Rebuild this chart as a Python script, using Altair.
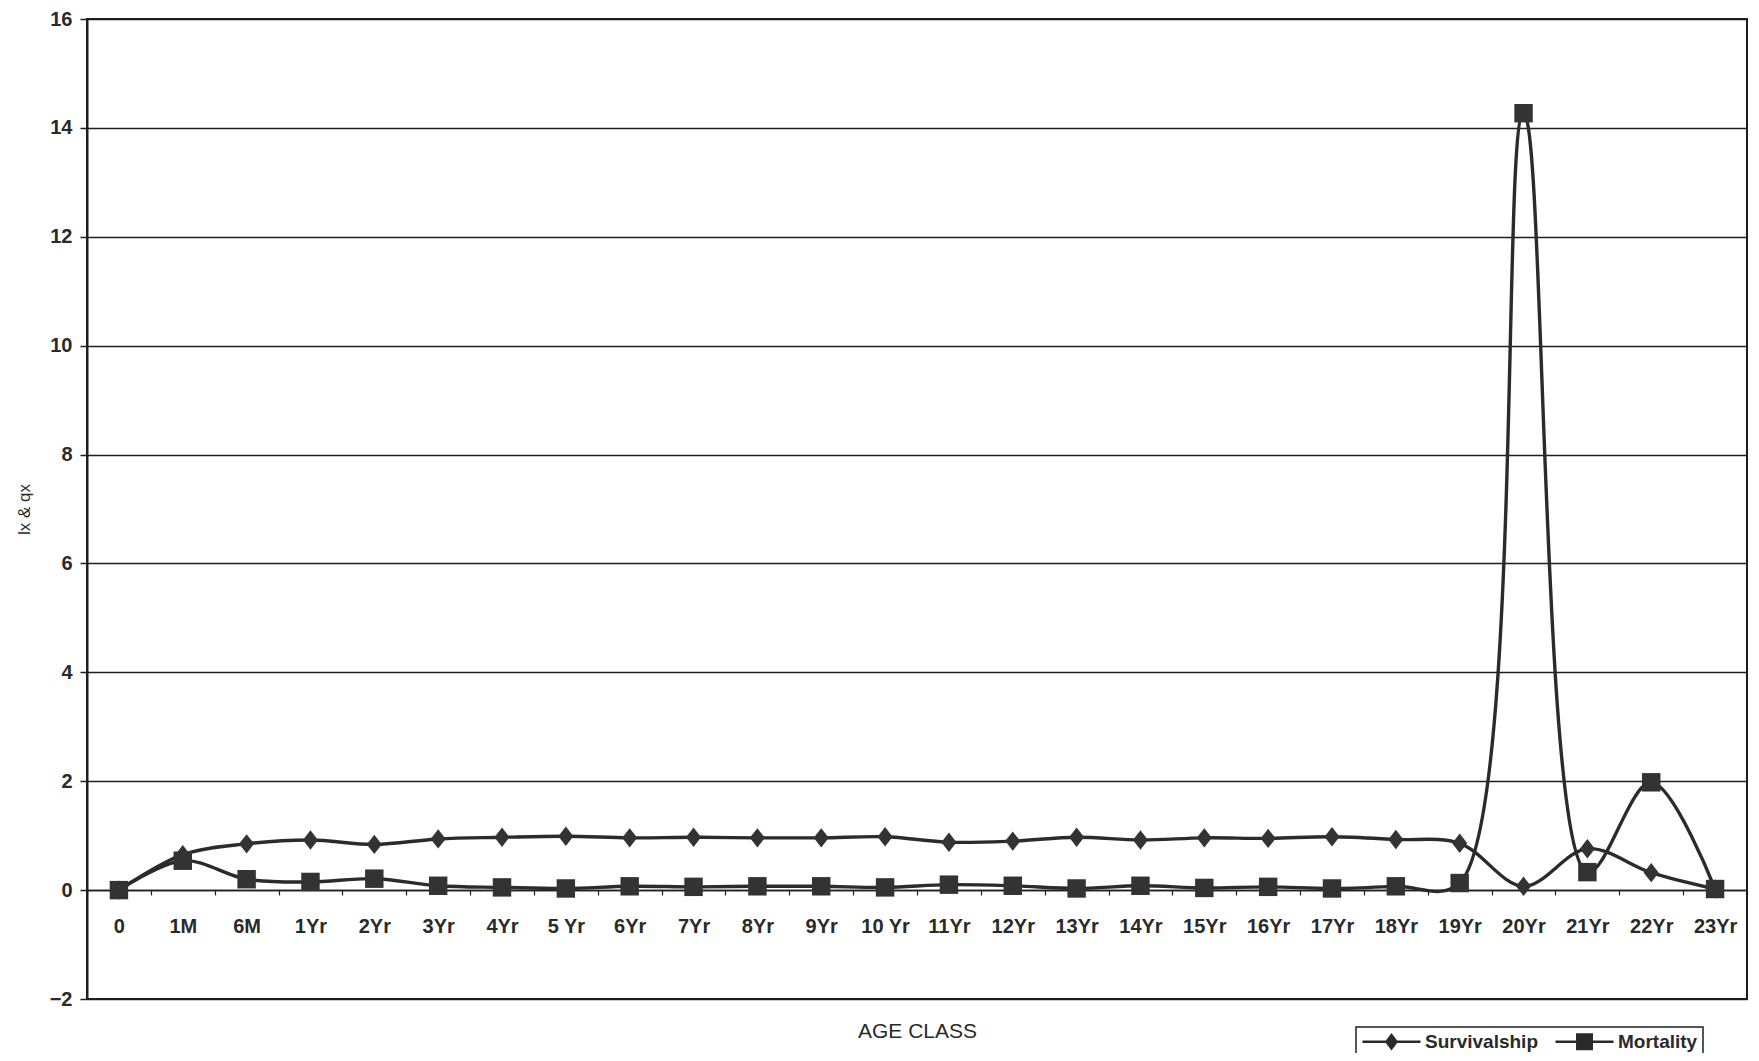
import altair as alt
import pandas as pd

categories = ["0", "1M", "6M", "1Yr", "2Yr", "3Yr", "4Yr", "5 Yr", "6Yr", "7Yr", "8Yr", "9Yr",
              "10 Yr", "11Yr", "12Yr", "13Yr", "14Yr", "15Yr", "16Yr", "17Yr", "18Yr", "19Yr",
              "20Yr", "21Yr", "22Yr", "23Yr"]
survivalship = [0.0, 0.65, 0.85, 0.92, 0.84, 0.94, 0.97, 0.99, 0.96, 0.97, 0.96, 0.96,
                0.98, 0.88, 0.90, 0.97, 0.92, 0.96, 0.95, 0.98, 0.93, 0.86,
                0.07, 0.76, 0.32, 0.02]
mortality = [0.0, 0.54, 0.20, 0.15, 0.21, 0.08, 0.05, 0.03, 0.07, 0.06, 0.07, 0.07,
             0.05, 0.10, 0.08, 0.03, 0.08, 0.04, 0.06, 0.03, 0.07, 0.13,
             14.27, 0.33, 1.98, 0.02]
series_names = ["Survivalship", "Mortality"]
y_ticks = [-2, 0, 2, 4, 6, 8, 10, 12, 14, 16]

rows = []
for i, c in enumerate(categories):
    rows.append({"age": c, "value": survivalship[i], "series": series_names[0]})
    rows.append({"age": c, "value": mortality[i], "series": series_names[1]})
df = pd.DataFrame(rows)

FONT = "Liberation Sans"
INK = "#1e1e1e"
LINE = "#2b2b2b"

x_enc = alt.X("age:N",
              scale=alt.Scale(type="band", domain=categories, paddingInner=0, paddingOuter=0),
              sort=categories,
              axis=alt.Axis(orient="bottom", offset=-109, labelAngle=0, tickBand="extent",
                            tickSize=5, tickWidth=1.2, tickColor=INK,
                            domainColor=INK, domainWidth=1.6, grid=False,
                            labelFont=FONT, labelFontWeight="bold", labelFontSize=20,
                            labelColor="#2a2a2a", labelPadding=21,
                            title="AGE CLASS", titleFont=FONT, titleFontWeight="normal",
                            titleFontSize=21, titleColor="#2a2a2a", titlePadding=84))
y_enc = alt.Y("value:Q",
              scale=alt.Scale(domain=[-2, 16], nice=False, zero=False),
              axis=alt.Axis(values=y_ticks, grid=True, gridColor=INK, gridWidth=1.4,
                            domainColor=INK, domainWidth=2, tickColor=INK, tickSize=7,
                            tickWidth=1.5, labelFont=FONT, labelFontWeight="bold",
                            labelFontSize=20, labelColor="#2a2a2a", labelPadding=8,
                            title="lx & qx", titleFont=FONT, titleFontWeight="normal",
                            titleFontSize=17, titleColor="#2a2a2a", titlePadding=16))

diamond = "M0,-1.05L0.82,0L0,1.05L-0.82,0Z"
leg_diamond = "M-1,-0.16H6.25V0.16H-1ZM2.625,-1.1L3.445,0L2.625,1.1L1.805,0Z"
leg_square = "M-1,-0.16H6.25V0.16H-1ZM1.565,-1.06H3.685V1.06H1.565Z"

base = alt.Chart(df)

lines = base.mark_line(interpolate="catmull-rom", color=LINE, strokeWidth=3.4).encode(
    x=x_enc, y=y_enc, detail="series:N")

points = base.mark_point(filled=True, size=340, color="#333333", opacity=1).encode(
    x=x_enc, y=y_enc,
    shape=alt.Shape("series:N", scale=alt.Scale(domain=series_names, range=[diamond, "square"]),
                    legend=None))

legend_layer = base.transform_filter("false").mark_point(
    filled=True, size=256, color="#2a2a2a", opacity=1).encode(
    x=x_enc, y=y_enc,
    shape=alt.Shape("series:N",
                    scale=alt.Scale(domain=series_names, range=[leg_diamond, leg_square]),
                    legend=alt.Legend(title=None, orient="none", direction="horizontal",
                                      legendX=1269, legendY=1008,
                                      strokeColor=INK, padding=5,
                                      fillColor="white",
                                      symbolSize=256, symbolFillColor="#2a2a2a",
                                      symbolStrokeColor="#2a2a2a", symbolStrokeWidth=0,
                                      symbolOpacity=1,
                                      labelOffset=45, columnPadding=16,
                                      labelFont=FONT, labelFontWeight="bold",
                                      labelFontSize=19, labelColor="#2a2a2a")))

chart = alt.layer(lines, points, legend_layer).resolve_scale(shape="independent").properties(
    width=1660, height=980,
    autosize=alt.AutoSizeParams(type="none"),
    padding={"left": 79, "top": 11, "right": 2, "bottom": 54},
    background="white",
).configure_view(stroke=INK, strokeWidth=2).configure_legend(strokeWidth=1.5)

chart.save("out.html", embed_options={"renderer": "svg", "actions": False})
